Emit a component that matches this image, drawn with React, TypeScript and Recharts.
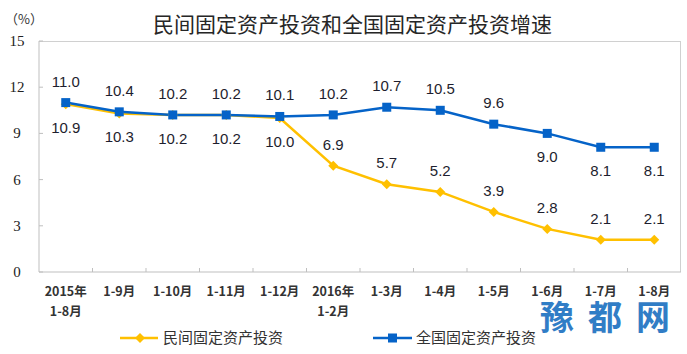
import { LineChart, Line, XAxis, YAxis, LabelList } from 'recharts';

const periodTop = ['2015年', '1-9月', '1-10月', '1-11月', '1-12月', '2016年', '1-3月', '1-4月', '1-5月', '1-6月', '1-7月', '1-8月'];
const periodBottom = ['1-8月', '', '', '', '', '1-2月', '', '', '', '', '', ''];
const privateInvest = [10.9, 10.3, 10.2, 10.2, 10.0, 6.9, 5.7, 5.2, 3.9, 2.8, 2.1, 2.1];
const nationalInvest = [11.0, 10.4, 10.2, 10.2, 10.1, 10.2, 10.7, 10.5, 9.6, 9.0, 8.1, 8.1];
// which points have their value label under the line
const privateBelow = [true, true, true, true, true, false, false, false, false, false, false, false];
const nationalBelow = [false, false, false, false, false, false, false, false, false, true, true, true];
const yTicks = [0, 3, 6, 9, 12, 15];

const W = 687;
const H = 354;
const plotLeft = 39;
const plotTop = 41;
const plotRight = 681;
const plotBottom = 272;
const halfBand = (plotRight - plotLeft) / periodTop.length / 2;

const YELLOW = '#FFC000';
const BLUE = '#0563C8';

const chartData = periodTop.map((p, i) => ({
    name: p + periodBottom[i],
    top: p,
    bottom: periodBottom[i],
    privateInvest: privateInvest[i],
    nationalInvest: nationalInvest[i],
}));

const XTick = (props: any) => {
    const { x, y, index } = props;
    const d = chartData[index];
    return (
        <g>
            {index < chartData.length - 1 && (
                <line x1={x + halfBand} x2={x + halfBand} y1={y} y2={y - 4} stroke="#bfbfbf" />
            )}
            <text x={x} y={y + 24} textAnchor="middle" fontSize={12.5} fontWeight="bold" fill="#333"
                fontFamily="'Noto Sans CJK SC', sans-serif">{d.top}</text>
            {d.bottom && (
                <text x={x} y={y + 44} textAnchor="middle" fontSize={12.5} fontWeight="bold" fill="#333"
                    fontFamily="'Noto Sans CJK SC', sans-serif">{d.bottom}</text>
            )}
        </g>
    );
};

const YTick = (props: any) => {
    const { x, y, payload } = props;
    return (
        <g>
            <line x1={x} x2={x + 4} y1={y} y2={y} stroke="#bfbfbf" />
            <text x={x - 22} y={y + 5} textAnchor="middle" fontSize={15} fill="#222"
                fontFamily="'Liberation Serif', serif">{payload.value}</text>
        </g>
    );
};

const makeLabel = (below: boolean[]) => (props: any) => {
    const { x, y, value, index } = props;
    const under = below[index];
    return (
        <text x={x} y={under ? y + 29 : y - 16} textAnchor="middle" fontSize={15} fill="#1e1e2e"
            fontFamily="'Liberation Sans', Arial, sans-serif">
            {Number(value).toFixed(1)}
        </text>
    );
};

const Diamond = (props: any) => {
    const { cx, cy } = props;
    if (cx == null || cy == null) return <g />;
    return <path d={`M${cx} ${cy - 5}L${cx + 5} ${cy}L${cx} ${cy + 5}L${cx - 5} ${cy}Z`} fill={YELLOW} />;
};

const Square = (props: any) => {
    const { cx, cy } = props;
    if (cx == null || cy == null) return <g />;
    return <rect x={cx - 4.5} y={cy - 4.5} width={9} height={9} fill={BLUE} />;
};

const cjk = "'Noto Sans CJK SC', sans-serif";

const App = () => {
    return (
        <div style={{ position: 'fixed', left: 0, top: 0, width: W, height: H, background: '#fff' }}>
            <div style={{ position: 'absolute', left: 0, width: W, top: 8, textAlign: 'center', paddingLeft: 9,
                fontFamily: cjk, fontSize: 21, color: '#262626', lineHeight: '30px' }}>
                民间固定资产投资和全国固定资产投资增速
            </div>
            <div style={{ position: 'absolute', left: 5, top: 9, fontFamily: cjk, fontSize: 13, color: '#333' }}>
                （%）
            </div>
            <div style={{ position: 'absolute', left: plotLeft, top: plotTop, width: plotRight - plotLeft,
                height: plotBottom - plotTop, borderTop: '1px solid #d0d0d0', borderRight: '1px solid #d0d0d0',
                boxSizing: 'border-box' }} />
            <LineChart width={W} height={H} data={chartData}
                margin={{ top: plotTop, right: W - plotRight, left: 0, bottom: 0 }}>
                <XAxis dataKey="name" interval={0} height={H - plotBottom} padding={{ left: halfBand, right: halfBand }}
                    axisLine={{ stroke: '#bfbfbf' }} tickLine={false} tickSize={0} tickMargin={0} tick={<XTick />} />
                <YAxis domain={[0, 15]} ticks={yTicks} width={plotLeft} axisLine={{ stroke: '#bfbfbf' }}
                    tickLine={false} tickSize={0} tickMargin={0} tick={<YTick />} />
                <Line type="linear" dataKey="privateInvest" stroke={YELLOW} strokeWidth={2.5}
                    dot={<Diamond />} activeDot={false} isAnimationActive={false}>
                    <LabelList dataKey="privateInvest" content={makeLabel(privateBelow)} />
                </Line>
                <Line type="linear" dataKey="nationalInvest" stroke={BLUE} strokeWidth={2.5}
                    dot={<Square />} activeDot={false} isAnimationActive={false}>
                    <LabelList dataKey="nationalInvest" content={makeLabel(nationalBelow)} />
                </Line>
            </LineChart>
            <svg style={{ position: 'absolute', left: 0, top: 0 }} width={W} height={H}>
                <line x1={120} x2={158} y1={338} y2={338} stroke={YELLOW} strokeWidth={2.5} />
                <path d="M140 333L145 338L140 343L135 338Z" fill={YELLOW} />
                <text x={163} y={343} fontSize={15} fill="#333" fontFamily={cjk}>民间固定资产投资</text>
                <line x1={373} x2={412} y1={338} y2={338} stroke={BLUE} strokeWidth={2.5} />
                <rect x={388} y={333.5} width={9} height={9} fill={BLUE} />
                <text x={416} y={343} fontSize={15} fill="#333" fontFamily={cjk}>全国固定资产投资</text>
                <text x={540} y={330} fontSize={34} fontWeight="bold" fill="#1a6fc0" letterSpacing={14}
                    fontFamily={cjk} opacity={0.9}>豫都网</text>
            </svg>
        </div>
    );
};

export default App;
